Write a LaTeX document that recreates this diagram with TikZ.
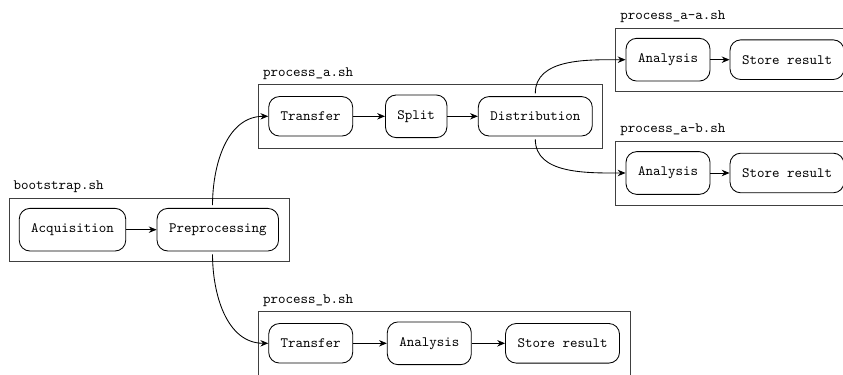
\documentclass[tikz,border=0pt]{standalone}
\usetikzlibrary{arrows.meta,fit}
\begin{document}
\begin{tikzpicture}[x=0.7pt,y=0.7pt,
  stepnode/.style={draw,semithick,rounded corners=7.5pt,font=\ttfamily,inner xsep=8.4pt,inner ysep=10.7pt},
  group/.style={draw=black!75,inner sep=7pt},
  grouplabel/.style={anchor=south west,font=\ttfamily,inner sep=3.33pt},
  arr/.style={semithick,-{Stealth[length=5.5pt,width=4.5pt]}},
]
\path[use as bounding box, clip] (0,0) rectangle (843,374);

% bootstrap.sh
\node[stepnode] (acq) at (72.5,144.3) {Acquisition};
\node[stepnode] (pre) at (217.8,144.3) {Preprocessing};
\node[group, fit=(acq)(pre)] (bs) {};
\node[grouplabel] (bsl) at (bs.north west) {bootstrap.sh};

% process_a.sh
\node[stepnode] (ta) at (310.7,257.7) {Transfer};
\node[stepnode] (split) at (416.2,257.7) {Split};
\node[stepnode] (dist) at (535.3,257.7) {Distribution};
\node[group, fit=(ta)(split)(dist)] (pa) {};
\node[grouplabel] (pal) at (pa.north west) {process\_a.sh};

% process_a-a.sh
\node[stepnode] (aaA) at (668,314.3) {Analysis};
\node[stepnode] (aaS) at (787,314.3) {Store result};
\node[group, fit=(aaA)(aaS)] (paa) {};
\node[grouplabel] (paal) at (paa.north west) {process\_a-a.sh};

% process_a-b.sh
\node[stepnode] (abA) at (668,201) {Analysis};
\node[stepnode] (abS) at (787,201) {Store result};
\node[group, fit=(abA)(abS)] (pab) {};
\node[grouplabel] (pabl) at (pab.north west) {process\_a-b.sh};

% process_b.sh
\node[stepnode] (tb) at (310.7,30.7) {Transfer};
\node[stepnode] (anb) at (429.3,30.7) {Analysis};
\node[stepnode] (stb) at (562.5,30.7) {Store result};
\node[group, fit=(tb)(anb)(stb)] (pb) {};
\node[grouplabel] (pbl) at (pb.north west) {process\_b.sh};

% straight arrows
\draw[arr] (acq) -- (pre);
\draw[arr] (ta) -- (split);
\draw[arr] (split) -- (dist);
\draw[arr] (aaA) -- (aaS);
\draw[arr] (abA) -- (abS);
\draw[arr] (tb) -- (anb);
\draw[arr] (anb) -- (stb);

% curved arrows
\draw[arr, shorten <=2pt] ([xshift=-3.7pt]pre.north) to[out=90,in=180] (ta.west);
\draw[arr, shorten <=2pt] ([xshift=-3.7pt]pre.south) to[out=-90,in=180] (tb.west);
\draw[arr, shorten <=2pt] (dist.north) to[out=90,in=180] (aaA.west);
\draw[arr, shorten <=2pt] (dist.south) to[out=-90,in=180] (abA.west);
\end{tikzpicture}
\end{document}
